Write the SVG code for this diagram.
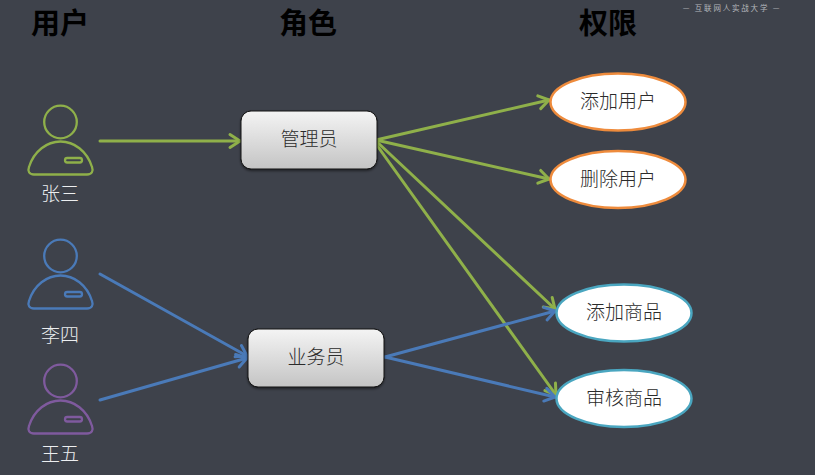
<svg xmlns="http://www.w3.org/2000/svg" width="815" height="475" viewBox="0 0 815 475">
<style>
text{font-family:"Noto Sans CJK SC","Liberation Sans",sans-serif;text-anchor:middle}
.h{font-size:29px;font-weight:700;fill:#000}
.p{font-size:19px;fill:#eceef0;font-weight:300}
.n{font-size:19px;fill:#2b2b2b;font-weight:300}
.c{fill:none;stroke-width:3;stroke-linecap:round}
.g{stroke:#8fb04a}.b{stroke:#4a7ab8}
.i{fill:none;stroke-width:2.300}
.box{fill:url(#grad);stroke:#111;stroke-width:1;filter:url(#sh)}
.o{fill:#fff;stroke:#ee8b3c;stroke-width:2.500}
.t{fill:#fff;stroke:#4aa6c0;stroke-width:2.500}
</style>
<defs>
<linearGradient id="grad" x1="0" y1="0" x2="0" y2="1"><stop offset="0" stop-color="#f4f4f4"/><stop offset="1" stop-color="#c4c4c4"/></linearGradient>
<filter id="sh" x="-10%" y="-10%" width="120%" height="130%"><feDropShadow dx="0" dy="1.5" stdDeviation="1.2" flood-color="#000" flood-opacity=".5"/></filter>
<marker id="ag" markerUnits="userSpaceOnUse" markerWidth="20" markerHeight="20" refX="15" refY="8" orient="auto" overflow="visible"><path d="M5,1.500 L15,8 L5,14.500" fill="none" stroke="#8fb04a" stroke-width="3" stroke-linecap="round" stroke-linejoin="round"/></marker>
<marker id="ab" markerUnits="userSpaceOnUse" markerWidth="20" markerHeight="20" refX="15" refY="8" orient="auto" overflow="visible"><path d="M5,1.500 L15,8 L5,14.500" fill="none" stroke="#4a7ab8" stroke-width="3" stroke-linecap="round" stroke-linejoin="round"/></marker>
<g id="person"><circle cx="60.500" cy="122" r="16.300"/><path d="M34,174.500 H87 C92,174.500 93.500,171 92,167 C87,151 74,141.500 60.500,141.500 C47,141.500 34,151 29,167 C27.500,171 29,174.500 34,174.500 Z"/><rect x="65" y="158" width="17" height="4.500" rx="2.200"/></g>
</defs>
<rect width="815" height="475" fill="#3e424b"/>
<g id="headings"><text class="h" x="60" y="34">用户</text><text class="h" x="308" y="34">角色</text><text class="h" x="608" y="34">权限</text></g>
<text id="watermark" x="732" y="11" style="font-size:7.500px;letter-spacing:1.800px;fill:#b4b7bb">— 互联网人实战大学 —</text>
<g id="connectors">
<line class="c g" x1="100" y1="141" x2="240" y2="141" marker-end="url(#ag)"/>
<line class="c g" x1="376" y1="140" x2="549" y2="100" marker-end="url(#ag)"/>
<line class="c g" x1="376" y1="140" x2="549" y2="179" marker-end="url(#ag)"/>
<line class="c g" x1="376" y1="141" x2="555" y2="309" marker-end="url(#ag)"/>
<line class="c g" x1="376" y1="144" x2="556" y2="395" marker-end="url(#ag)"/>
<line class="c b" x1="100" y1="274" x2="247" y2="356" marker-end="url(#ab)"/>
<line class="c b" x1="100" y1="400" x2="247" y2="358" marker-end="url(#ab)"/>
<line class="c b" x1="385" y1="357" x2="555" y2="311" marker-end="url(#ab)"/>
<line class="c b" x1="385" y1="357" x2="555" y2="397" marker-end="url(#ab)"/>
</g>
<g id="user-zhangsan"><use href="#person" class="i" stroke="#8fb04a" stroke-width="3"/><text class="p" x="60" y="201">张三</text></g>
<g id="user-lisi"><use href="#person" class="i" y="134" stroke="#4a7ab8"/><text class="p" x="60" y="342">李四</text></g>
<g id="user-wangwu"><use href="#person" class="i" y="259" stroke="#7f5a9e"/><text class="p" x="60" y="461">王五</text></g>
<g id="role-admin"><rect class="box" x="241" y="111" width="136" height="58" rx="10"/><text class="n" x="309" y="146">管理员</text></g>
<g id="role-sales"><rect class="box" x="248" y="329" width="136" height="58" rx="10"/><text class="n" x="316" y="364">业务员</text></g>
<g id="perm-add-user"><ellipse class="o" cx="618" cy="102" rx="67.500" ry="28.500"/><text class="n" x="618" y="108">添加用户</text></g>
<g id="perm-del-user"><ellipse class="o" cx="618" cy="179.500" rx="67.500" ry="28.500"/><text class="n" x="618" y="185.500">删除用户</text></g>
<g id="perm-add-goods"><ellipse class="t" cx="624" cy="313" rx="67.500" ry="28.500"/><text class="n" x="624" y="319">添加商品</text></g>
<g id="perm-audit-goods"><ellipse class="t" cx="624" cy="398.500" rx="67.500" ry="28.500"/><text class="n" x="624" y="404.500">审核商品</text></g>
</svg>
